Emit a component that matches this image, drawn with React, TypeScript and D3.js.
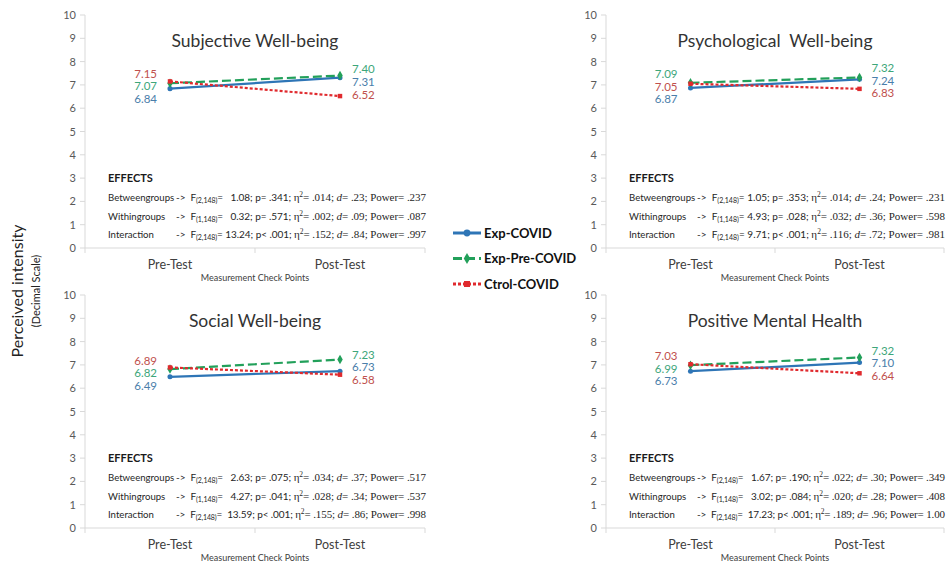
import React from "react";
import * as d3 from "d3";

const width = 946;
const height = 563;

const categories = ["Pre-Test", "Post-Test"];
const seriesNames = ["Exp-COVID", "Exp-Pre-COVID", "Ctrol-COVID"];
const panelTitles = ["Subjective Well-being", "Psychological  Well-being", "Social Well-being", "Positive Mental Health"];
const yTicks = [0, 1, 2, 3, 4, 5, 6, 7, 8, 9, 10];
const effectNames = ["Betweengroups", "Withingroups", "Interaction"];
const effectDf = ["(2,148)", "(1,148)", "(2,148)"];

// series values per panel: [Exp-COVID, Exp-Pre-COVID, Ctrol-COVID], each [pre, post]
const subjectiveValues = [[6.84, 7.31], [7.07, 7.40], [7.15, 6.52]];
const psychologicalValues = [[6.87, 7.24], [7.09, 7.32], [7.05, 6.83]];
const socialValues = [[6.49, 6.73], [6.82, 7.23], [6.89, 6.58]];
const mentalHealthValues = [[6.73, 7.10], [6.99, 7.32], [7.03, 6.64]];

// effects: F, p, eta2, d, power
const subjectiveEffects = [
  ["  1.08", "p= .341", ".014", ".23", ".237"],
  ["  0.32", "p= .571", ".002", ".09", ".087"],
  ["13.24", "p< .001", ".152", ".84", ".997"],
];
const psychologicalEffects = [
  ["1.05", "p= .353", ".014", ".24", ".231"],
  ["4.93", "p= .028", ".032", ".36", ".598"],
  ["9.71", "p< .001", ".116", ".72", ".981"],
];
const socialEffects = [
  ["  2.63", "p= .075", ".034", ".37", ".517"],
  ["  4.27", "p= .041", ".028", ".34", ".537"],
  [" 13.59", "p< .001", ".155", ".86", ".998"],
];
const mentalHealthEffects = [
  ["  1.67", "p= .190", ".022", ".30", ".349"],
  ["  3.02", "p= .084", ".020", ".28", ".408"],
  [" 17.23", "p< .001", ".189", ".96", "1.00"],
];

const lineColors = ["#2E75B6", "#22A05A", "#E02A2E"];
const labelColors = ["#4A7EAA", "#3DA67A", "#C0504D"];
const dashes = ["none", "9,4", "3,2"];
const symbols = [d3.symbolCircle, d3.symbolDiamond, d3.symbolSquare];

const sans = "Lato, 'Open Sans', sans-serif";
const serif = "'Liberation Serif', 'DejaVu Serif', serif";

// push overlapping value labels apart
function placeLabels(ys: number[], gap: number) {
  const items = ys.map((y, i) => ({ i, y }));
  items.sort((a, b) => a.y - b.y);
  for (let k = 0; k < 60; k++) {
    for (let j = 1; j < items.length; j++) {
      const diff = items[j].y - items[j - 1].y;
      if (diff < gap) {
        const push = (gap - diff) / 2;
        items[j].y += push;
        items[j - 1].y -= push;
      }
    }
  }
  const out: number[] = [];
  items.forEach((it) => (out[it.i] = it.y));
  return out;
}

const Panel = ({ left, top, bottom, w, title, values, effects }) => {
  const y = d3.scaleLinear().domain([0, 10]).range([bottom, top]);
  const x = d3.scaleBand().domain(categories).range([left, left + w]);
  const cx = (c) => x(c) + x.bandwidth() / 2;
  const line = d3
    .line<number>()
    .x((_, i) => cx(categories[i]))
    .y((v) => y(v));

  const preY = placeLabels(values.map((s) => y(s[0])), 12.5);
  const postY = placeLabels(values.map((s) => y(s[1])), 12.5);

  return (
    <g>
      {/* y axis */}
      <line x1={left} x2={left} y1={top} y2={bottom} stroke="#D9D9D9" />
      {yTicks.map((t) => (
        <g key={t}>
          <line x1={left - 5} x2={left} y1={y(t)} y2={y(t)} stroke="#D9D9D9" />
          <text x={left - 9} y={y(t) + 4} textAnchor="end" fontSize={11} fill="#595959" fontFamily={sans}>
            {t}
          </text>
        </g>
      ))}
      {/* x axis */}
      <line x1={left} x2={left + w} y1={bottom} y2={bottom} stroke="#D9D9D9" />
      {[...categories.map((c) => x(c)), left + w].map((bx, i) => (
        <line key={i} x1={bx} x2={bx} y1={bottom} y2={bottom + 5} stroke="#D9D9D9" />
      ))}
      {categories.map((c) => (
        <text key={c} x={cx(c)} y={bottom + 21} textAnchor="middle" fontSize={12.5} fill="#404040" fontFamily={sans}>
          {c}
        </text>
      ))}
      <text x={left + w / 2} y={bottom + 33} textAnchor="middle" fontSize={9} fill="#404040" fontFamily={sans}>
        Measurement Check Points
      </text>
      <text x={left + w / 2} y={top + 32} textAnchor="middle" fontSize={17.5} fill="#333" fontFamily={sans} style={{ whiteSpace: "pre" }}>
        {title}
      </text>

      {/* series */}
      {values.map((s, k) => (
        <g key={k}>
          <path d={line(s)} fill="none" stroke={lineColors[k]} strokeWidth={2.2} strokeDasharray={dashes[k]} />
          {s.map((v, i) => (
            <path
              key={i}
              d={d3.symbol().type(symbols[k]).size(k === 1 ? 26 : 20)()}
              transform={`translate(${cx(categories[i])},${y(v)})`}
              fill={lineColors[k]}
            />
          ))}
          <text x={cx(categories[0]) - 13} y={preY[k] + 6} textAnchor="end" fontSize={11.5} fill={labelColors[k]} fontFamily={sans}>
            {s[0].toFixed(2)}
          </text>
          <text x={cx(categories[1]) + 12} y={postY[k] + 3} fontSize={11.5} fill={labelColors[k]} fontFamily={sans}>
            {s[1].toFixed(2)}
          </text>
        </g>
      ))}

      {/* effects block */}
      <text x={left + 23} y={bottom - 66} fontSize={11} fontWeight="bold" fill="#1a1a1a" fontFamily={sans}>
        EFFECTS
      </text>
      {effects.map((e, r) => {
        const by = bottom - 47 + r * 18.5;
        return (
          <g key={r} fill="#262626">
            <text x={left + 23} y={by} fontSize={9.6} fontFamily={sans}>
              {effectNames[r]}
            </text>
            <text
              x={left + 91}
              y={by}
              fontSize={10}
              fontFamily={sans}
              style={{ whiteSpace: "pre" }}
              textLength={w - 90}
              lengthAdjust="spacing"
            >
              <tspan>{"->  F"}</tspan>
              <tspan fontSize={7} dy={2}>{effectDf[r]}</tspan>
              <tspan dy={-2}>{`= ${e[0]}; ${e[1]}; `}</tspan>
              <tspan fontFamily={serif} fontSize={11}>η</tspan>
              <tspan fontFamily={serif} fontSize={7.5} dy={-4}>2</tspan>
              <tspan fontFamily={serif} fontSize={11} dy={4}>{`= ${e[2]}; `}</tspan>
              <tspan fontFamily={serif} fontSize={11} fontStyle="italic">d</tspan>
              <tspan fontFamily={serif} fontSize={11}>{`= ${e[3]}; Power= ${e[4]}`}</tspan>
            </text>
          </g>
        );
      })}
    </g>
  );
};

const Legend = () => {
  const ly = d3.scalePoint().domain(seriesNames).range([233, 284]);
  return (
    <g>
      {seriesNames.map((n, k) => (
        <g key={n}>
          <line x1={453} x2={481} y1={ly(n)} y2={ly(n)} stroke={lineColors[k]} strokeWidth={3} strokeDasharray={dashes[k]} />
          <path d={d3.symbol().type(symbols[k]).size(36)()} transform={`translate(467,${ly(n)})`} fill={lineColors[k]} />
          <text x={484} y={ly(n) + 4.5} fontSize={13} fontWeight="bold" fill="#111" fontFamily={sans}>
            {n}
          </text>
        </g>
      ))}
    </g>
  );
};

export default function App() {
  const panels = [
    { left: 85, top: 15, bottom: 248, w: 340, values: subjectiveValues, effects: subjectiveEffects },
    { left: 606, top: 15, bottom: 248, w: 338, values: psychologicalValues, effects: psychologicalEffects },
    { left: 85, top: 295, bottom: 528, w: 340, values: socialValues, effects: socialEffects },
    { left: 606, top: 295, bottom: 528, w: 338, values: mentalHealthValues, effects: mentalHealthEffects },
  ];
  return (
    <svg width={width} height={height} style={{ position: "absolute", left: 0, top: 0, background: "#fff" }}>
      <rect width={width} height={height} fill="#fff" />
      {panels.map((p, i) => (
        <Panel key={i} {...p} title={panelTitles[i]} />
      ))}
      <Legend />
      <text transform="translate(23,291) rotate(-90)" textAnchor="middle" fontSize={16} fill="#222" fontFamily={sans}>
        Perceived intensity
      </text>
      <text transform="translate(40,291) rotate(-90)" textAnchor="middle" fontSize={11} fill="#222" fontFamily={sans}>
        (Decimal Scale)
      </text>
    </svg>
  );
}
